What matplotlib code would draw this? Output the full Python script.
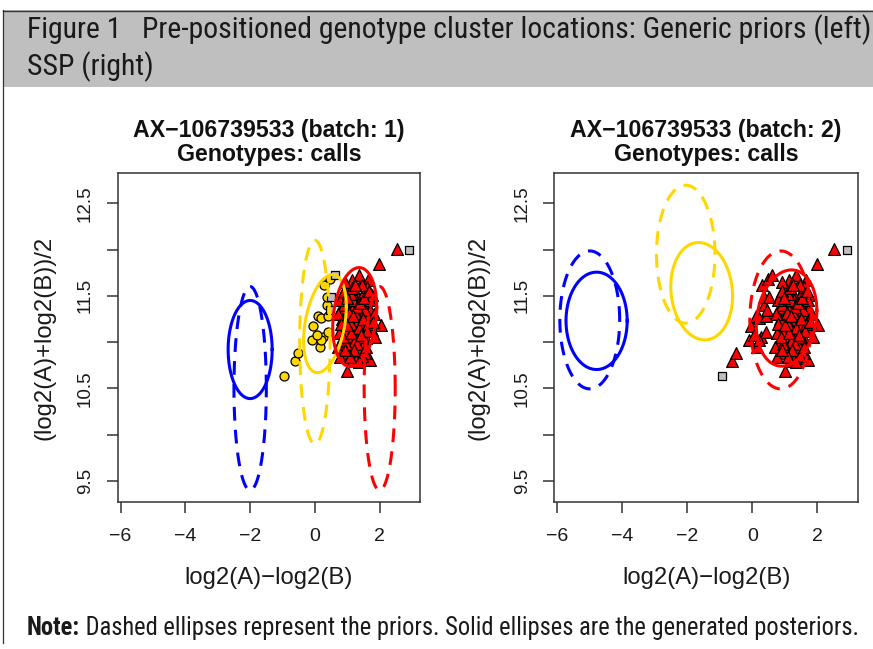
import numpy as np
import matplotlib
matplotlib.use('Agg')
import matplotlib.pyplot as plt
from matplotlib.patches import Rectangle
from matplotlib.lines import Line2D
from matplotlib import font_manager

# ---------------- data ----------------
header_line1 = "Figure 1   Pre-positioned genotype cluster locations: Generic priors (left)"
header_line2 = "SSP (right)"
note_bold = "Note:"
note_rest = " Dashed ellipses represent the priors. Solid ellipses are the generated posteriors."
titles = ["AX\u2212106739533 (batch: 1)", "AX\u2212106739533 (batch: 2)"]
subtitle = "Genotypes: calls"
xlabel = "log2(A)\u2212log2(B)"
ylabel = "(log2(A)+log2(B))/2"
xticks = [-6, -4, -2, 0, 2]
yticks = [9.5, 10.0, 10.5, 11.0, 11.5, 12.0, 12.5]
ytick_labels = ["9.5", "", "10.5", "", "11.5", "", "12.5"]

# points: log2(A)-log2(B), (log2(A)+log2(B))/2
aa_x = [1.13, 1.39, 1.64, 1.23, 1.54, 0.87, 1.75, 1.03, 1.28, 1.59, 0.82, 1.13, 1.44, 1.70,
        0.97, 1.28, 1.59, 0.87, 1.18, 1.49, 1.75, 2.03, 1.03, 1.34, 1.59, 0.82, 1.13, 1.44,
        1.28, 1.64, 1.00, 0.97, 0.77, 1.70, 1.28, 1.98, 2.52,
        1.00, 1.20, 1.45, 0.90, 1.10, 1.35, 1.55, 0.95, 1.20, 1.50, 1.05, 1.38, 0.85, 1.65,
        1.25, 1.35, 0.92, 1.48, 0.75, 0.72, 0.78, 1.15, 1.55, 1.82, 1.85, 0.70, 1.10, 1.60,
        1.30, 0.95,
        0.90, 1.15, 1.45, 1.70, 1.05, 1.30, 1.62, 0.88, 1.22, 1.45, 1.12, 1.40, 0.98, 1.52,
        1.78, 0.80, 1.08, 1.35, 1.58, 1.25, 1.00, 1.42, 1.68, 1.18, 0.92]
aa_y = [11.67, 11.62, 11.67, 11.55, 11.56, 11.53, 11.51, 11.44, 11.46, 11.42, 11.37, 11.35, 11.33, 11.35,
        11.26, 11.24, 11.26, 11.17, 11.15, 11.17, 11.13, 11.19, 11.06, 11.06, 11.04, 10.99, 10.97, 10.95,
        10.88, 10.83, 10.69, 10.88, 10.84, 10.81, 10.81, 11.84, 12.01,
        11.60, 11.45, 11.50, 11.40, 11.20, 11.15, 11.35, 11.10, 11.00, 11.05, 10.92, 10.92, 11.25, 11.20,
        11.32, 11.72, 11.65, 11.25, 11.10, 11.30, 11.45, 10.80, 10.88, 11.30, 11.05, 10.95, 11.52, 11.60,
        10.98, 10.98,
        11.55, 11.58, 11.62, 11.45, 11.32, 11.38, 11.12, 11.05, 10.92, 10.85, 11.10, 11.42, 11.48, 11.48,
        11.22, 11.20, 10.84, 10.78, 10.95, 11.62, 11.18, 11.08, 11.55, 11.28, 10.92]
# called AB with generic priors, AA with SSP
ab_aa_x = [-0.62, -0.52, -0.05, -0.10, 0.15, 0.25, 0.41, 0.10, 0.20, 0.36, 0.36, 0.28, 0.48, 0.20, 0.05, 0.41]
ab_aa_y = [10.80, 10.88, 11.17, 11.02, 10.95, 11.06, 11.11, 11.28, 11.26, 11.40, 11.49, 11.62, 11.68, 11.02, 11.08, 11.28]
# called AB with generic priors, no call with SSP
ab_nc_x = [-0.95]
ab_nc_y = [10.63]
# no call with generic priors, AA with SSP
nc_aa_x = [0.61, 0.51, 0.46]
nc_aa_y = [11.73, 11.49, 11.35]
# no call in both
nc_x = [2.90]
nc_y = [11.99]

# ellipses: (centre x, centre y, half-width x, half-height y, correlation)
priors_generic = {"BB": (-2.00, 10.50, 0.50, 1.10, 0.0),
                  "AB": (0.00, 11.00, 0.47, 1.10, 0.0),
                  "AA": (2.00, 10.50, 0.48, 1.10, 0.0)}
post_generic = {"BB": (-2.00, 10.92, 0.68, 0.53, 0.0),
                "AB": (0.31, 11.20, 0.66, 0.53, 0.35),
                "AA": (1.23, 11.27, 0.68, 0.535, 0.20)}
priors_ssp = {"BB": (-5.00, 11.24, 0.92, 0.745, 0.0),
              "AB": (-2.05, 11.95, 0.90, 0.745, 0.0),
              "AA": (0.87, 11.24, 0.95, 0.745, 0.0)}
post_ssp = {"BB": (-4.79, 11.23, 0.94, 0.526, 0.0),
            "AB": (-1.56, 11.55, 0.95, 0.526, -0.10),
            "AA": (1.05, 11.26, 0.93, 0.52, 0.16)}

ell_colors = {"BB": "#0000FF", "AB": "#FFD700", "AA": "#FF0000"}

# ---------------- layout ----------------
W, H = 873, 649
fig = plt.figure(figsize=(W / 100, H / 100), dpi=100)
fig.patch.set_facecolor('white')

def fx(px):
    return px / W

def fy(py):
    return 1 - py / H

names = {f.name for f in font_manager.fontManager.ttflist}
head_font = 'Liberation Sans'
for cand in ['Liberation Sans Narrow', 'Roboto Condensed', 'Open Sans Condensed', 'Liberation Sans']:
    if cand in names:
        head_font = cand
        break
plot_font = 'Liberation Sans' if 'Liberation Sans' in names else 'DejaVu Sans'

# header band
fig.patches.append(Rectangle((fx(3), fy(87)), 1 - fx(3), fy(10) - fy(87), transform=fig.transFigure,
                             facecolor='#bfbfbf', edgecolor='none', zorder=0))
fig.lines.append(Line2D([fx(3), 1], [fy(10.5), fy(10.5)], transform=fig.transFigure, color='#333333', lw=1.0))
fig.lines.append(Line2D([fx(3.5), fx(3.5)], [fy(10), fy(643)], transform=fig.transFigure, color='#333333', lw=0.9))

h1 = fig.text(fx(27), fy(38), header_line1, fontsize=20, family=head_font, color='#1a1a1a',
              ha='left', va='baseline')
h2 = fig.text(fx(27), fy(75), header_line2, fontsize=20, family=head_font, color='#1a1a1a',
              ha='left', va='baseline')
n1 = fig.text(fx(27), fy(635), note_bold, fontsize=12, family=head_font, weight='bold', color='#1a1a1a',
              ha='left', va='baseline')
n2 = fig.text(fx(60), fy(635), note_rest, fontsize=12, family=head_font, color='#1a1a1a',
              ha='left', va='baseline')

fig.canvas.draw()
r = fig.canvas.get_renderer()
w1 = h1.get_window_extent(r).width
s = 20 * 844 / w1
h1.set_fontsize(s)
h2.set_fontsize(s)
wn = n1.get_window_extent(r).width + n2.get_window_extent(r).width
sn = 12 * 831 / wn
n1.set_fontsize(sn)
n2.set_fontsize(sn)
fig.canvas.draw()
r = fig.canvas.get_renderer()
n2.set_x(fx(27) + n1.get_window_extent(r).width / W)

def ellipse_xy(p, n=240):
    cx, cy, sx, sy, rho = p
    t = np.linspace(0, 2 * np.pi, n)
    x = cx + sx * np.cos(t)
    y = cy + sy * (rho * np.cos(t) + np.sqrt(1 - rho ** 2) * np.sin(t))
    return x, y

boxes = [(117.7, 420.0), (554.3, 858.0)]
top, bottom = 173.0, 502.0
ylab_x = [45, 478]

for i, (x0, x1) in enumerate(boxes):
    ax = fig.add_axes([fx(x0), fy(bottom), fx(x1) - fx(x0), fy(top) - fy(bottom)])
    ax.set_xlim(-6.09, 3.245)
    ax.set_ylim(9.273, 12.827)
    ax.set_xticks(xticks)
    ax.set_xticklabels([f"{v:d}".replace('-', '\u2212') for v in xticks])
    ax.set_yticks(yticks)
    ax.set_yticklabels(ytick_labels, rotation=90, va='center')
    for sp in ax.spines.values():
        sp.set_color('#333333')
        sp.set_linewidth(1.1)
    ax.tick_params(direction='out', length=8, width=1.1, color='#333333', labelcolor='#1a1a1a')
    ax.tick_params(axis='x', labelsize=14, pad=10.5)
    ax.tick_params(axis='y', labelsize=13.5, pad=9)
    for lab in ax.get_xticklabels() + ax.get_yticklabels():
        lab.set_family(plot_font)

    if i == 0:
        tri_x = aa_x
        tri_y = aa_y
        cir_x = ab_aa_x + ab_nc_x
        cir_y = ab_aa_y + ab_nc_y
        sq_x = nc_aa_x + nc_x
        sq_y = nc_aa_y + nc_y
        pri, post = priors_generic, post_generic
    else:
        tri_x = aa_x + ab_aa_x + nc_aa_x
        tri_y = aa_y + ab_aa_y + nc_aa_y
        cir_x, cir_y = [], []
        sq_x = ab_nc_x + nc_x
        sq_y = ab_nc_y + nc_y
        pri, post = priors_ssp, post_ssp

    ax.scatter(tri_x, tri_y, marker='^', s=72, facecolor='#FF0000', edgecolor='black', linewidth=0.9, zorder=2)
    if cir_x:
        ax.scatter(cir_x, cir_y, marker='o', s=42, facecolor='#FFD700', edgecolor='black', linewidth=0.9, zorder=3)
    ax.scatter(sq_x, sq_y, marker='s', s=34, facecolor='#bebebe', edgecolor='black', linewidth=0.9, zorder=3)

    for k in ["BB", "AB", "AA"]:
        ex, ey = ellipse_xy(pri[k])
        ax.plot(ex, ey, color=ell_colors[k], lw=2.2, ls=(0, (4.5, 3)), zorder=4)
        ex, ey = ellipse_xy(post[k])
        ax.plot(ex, ey, color=ell_colors[k], lw=2.2, ls='-', zorder=5)

    cx = (x0 + x1) / 2
    fig.text(fx(cx), fy(136.7), titles[i], fontsize=16.7, weight='bold', family=plot_font,
             ha='center', va='baseline', color='#111111')
    fig.text(fx(cx), fy(160.7), subtitle, fontsize=16.7, weight='bold', family=plot_font,
             ha='center', va='baseline', color='#111111')
    fig.text(fx(cx), fy(578), xlabel, fontsize=17.2, family=plot_font,
             ha='center', va='center', color='#1a1a1a')
    fig.text(fx(ylab_x[i]), fy((top + bottom) / 2), ylabel, fontsize=17.2, family=plot_font,
             rotation=90, ha='center', va='center', color='#1a1a1a')

fig.savefig('out.png', dpi=100)
